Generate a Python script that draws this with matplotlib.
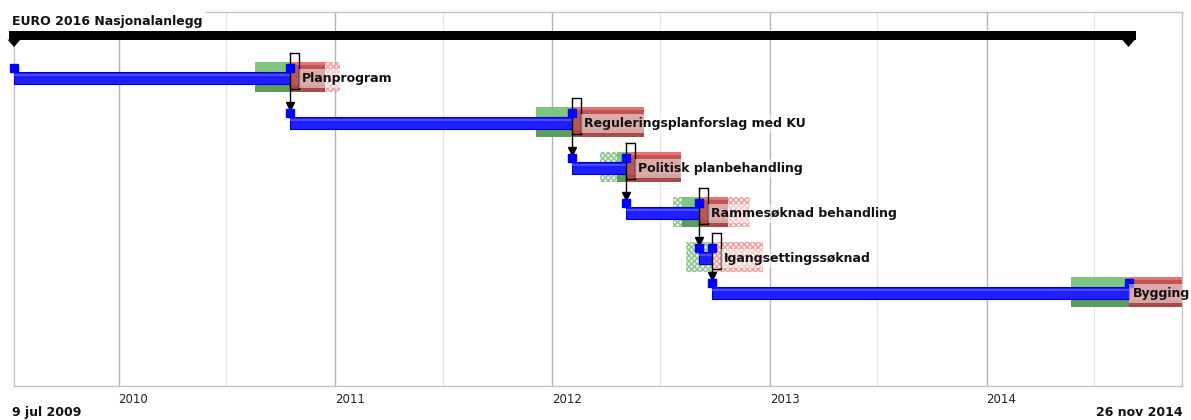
import datetime as dt
import matplotlib
matplotlib.use("Agg")
import matplotlib.pyplot as plt
import matplotlib.dates as mdates
from matplotlib.patches import Rectangle, Polygon

# ---------------- data ----------------
project = "EURO 2016 Nasjonalanlegg"
tasks = ["Planprogram", "Reguleringsplanforslag med KU", "Politisk planbehandling",
         "Rammesøknad behandling", "Igangsettingssøknad", "Bygging"]
starts = ["2009-07-09", "2010-10-16", "2012-02-03", "2012-05-04", "2012-09-04", "2012-09-26"]
ends = ["2010-10-16", "2012-02-03", "2012-05-04", "2012-09-04", "2012-09-26", "2014-08-28"]
early_hatch = [None, None, "2012-03-21", "2012-07-22", "2012-08-13", None]
early_solid = ["2010-08-18", "2011-12-05", "2012-04-19", "2012-08-07", None, "2014-05-23"]
late_solid = ["2010-12-15", "2012-06-04", "2012-08-05", "2012-10-23", None, "2014-12-20"]
late_hatch = ["2011-01-09", None, None, "2012-11-29", "2012-12-21", None]
range_start = "2009-07-09"
range_end = "2014-11-26"
range_start_label = "9 jul 2009"
range_end_label = "26 nov 2014"
year_ticks = [2010, 2011, 2012, 2013, 2014]

# ---------------- layout ----------------
W, H = 1191, 420
row_y = [77, 122, 167, 212, 257, 292]


def d(s):
    return mdates.date2num(dt.date.fromisoformat(s))


fig = plt.figure(figsize=(W / 100, H / 100), dpi=100)
ax = fig.add_axes([14 / W, (H - 386) / H, 1168 / W, 374 / H])
x0, x1 = d(range_start), d(range_end)
ax.set_xlim(x0, x1)
ax.set_ylim(386, 12)
dpp = (x1 - x0) / 1168.0  # days per pixel

# grid
ax.set_xticks([mdates.date2num(dt.date(y, 1, 1)) for y in year_ticks])
ax.set_xticklabels([str(y) for y in year_ticks], ha="left")
ax.set_xticks([mdates.date2num(dt.date(y, 7, 1)) for y in year_ticks], minor=True)
ax.set_yticks([])
ax.set_axisbelow(True)
ax.grid(axis="x", which="major", color="#b4b4b4", lw=1.0)
ax.grid(axis="x", which="minor", color="#e6e6e6", lw=1.0)
ax.tick_params(axis="x", which="both", length=0, pad=5, labelsize=8.5, labelcolor="#222222")
for lbl in ax.get_xticklabels():
    lbl.set_horizontalalignment("left")
for sp in ax.spines.values():
    sp.set_color("#c4c4c4")
    sp.set_linewidth(1.0)

G_LIGHT, G_DARK = "#7fc67f", "#5c9c5c"
R_MID, R_TOP, R_DARK = "#bc5555", "#f07070", "#a84a4a"

for i, name in enumerate(tasks):
    yc = row_y[i]
    s, e = d(starts[i]), d(ends[i])
    btop, bbot = yc - 15, yc + 15
    bar_top, bar_bot = yc - 5, yc + 7

    # green (early) region
    gs = d(early_solid[i]) if early_solid[i] else None
    if early_hatch[i]:
        hs = d(early_hatch[i])
        he = gs if gs else e
        ax.add_patch(Rectangle((hs, btop), he - hs, bbot - btop, fc=(0.85, 0.93, 0.85, 0.6),
                               ec="#8fc48f", lw=0, hatch="xxxxxx", zorder=1))
    if gs:
        ax.add_patch(Rectangle((gs, btop), e - gs, bar_bot - btop, fc=G_LIGHT, ec="none", zorder=1))
        ax.add_patch(Rectangle((gs, bar_bot), e - gs, bbot - bar_bot, fc=G_DARK, ec="none", zorder=1))

    # red (late) region
    ls = d(late_solid[i]) if late_solid[i] else None
    if ls:
        ax.add_patch(Rectangle((e, btop), ls - e, bbot - btop, fc=R_MID, ec="none", zorder=1))
        ax.add_patch(Rectangle((e, btop), ls - e, 3, fc=R_TOP, ec="none", zorder=1))
        ax.add_patch(Rectangle((e, bar_bot + 1), ls - e, bbot - bar_bot - 1, fc=R_DARK, ec="none", zorder=1))
    if late_hatch[i]:
        hs = ls if ls else e
        he = d(late_hatch[i])
        ax.add_patch(Rectangle((hs, btop), he - hs, bbot - btop, fc=(1.0, 0.88, 0.88, 0.5),
                               ec="#eea0a0", lw=0, hatch="xxxxxx", zorder=1))

    # task bar
    ax.add_patch(Rectangle((s, bar_top), e - s, bar_bot - bar_top, fc="#1e1eff",
                           ec="#0000c8", lw=0.8, zorder=3, clip_on=False))
    ax.add_patch(Rectangle((s, bar_top + 1.5), e - s, 2.5, fc="#4a4aff",
                           ec="none", zorder=3, clip_on=False))
    ax.plot([s, e], [yc - 9.5, yc - 9.5], ls="none", marker="s", ms=5.6,
            color="#0000ff", mec="#0000ff", zorder=5, clip_on=False)

    # link bracket + arrow to next task
    if i < len(tasks) - 1:
        bx1 = e + 9 * dpp
        top, bot = yc - 24, yc + 12
        ny = row_y[i + 1]
        ax.plot([e, bx1, bx1, e], [top, top, bot, bot], color="black", lw=1.0, zorder=4)
        ax.plot([e, e], [top, ny - 17], color="black", lw=1.0, zorder=4)
        ax.plot([e], [ny - 16.5], marker="v", ms=6.0, color="black", zorder=5)
        tx = bx1 + 3 * dpp
        clip = True
    else:
        tx = e + 4 * dpp
        clip = False

    ax.text(tx, yc + 5, name, fontsize=9, fontweight="bold", color="#111111",
            ha="left", va="baseline", zorder=6, clip_on=clip,
            bbox=dict(boxstyle="square,pad=0.25", fc="white", ec="none", alpha=0.5))

# summary bar
ps, pe = x0, d(ends[-1])
ax.add_patch(Rectangle((ps - 5 * dpp, 31), (pe - ps) + 12 * dpp, 9, fc="black", ec="none",
                       zorder=5, clip_on=False))
for xx in (ps, pe):
    ax.add_patch(Polygon([(xx - 6.5 * dpp, 39.5), (xx + 6.5 * dpp, 39.5), (xx, 47)],
                         closed=True, fc="black", ec="none", zorder=5, clip_on=False))

# texts in figure
fig.text(12 / W, 1 - 24.5 / H, project, fontsize=9, fontweight="bold", color="#111111",
         ha="left", va="baseline", zorder=10,
         bbox=dict(boxstyle="square,pad=0.3", fc="white", ec="none"))
fig.text(12 / W, 1 - 416 / H, range_start_label, fontsize=9, fontweight="bold",
         color="#111111", ha="left", va="baseline")
fig.text(1183 / W, 1 - 416 / H, range_end_label, fontsize=9, fontweight="bold",
         color="#111111", ha="right", va="baseline")

fig.savefig("out.png", dpi=100, facecolor="white")
